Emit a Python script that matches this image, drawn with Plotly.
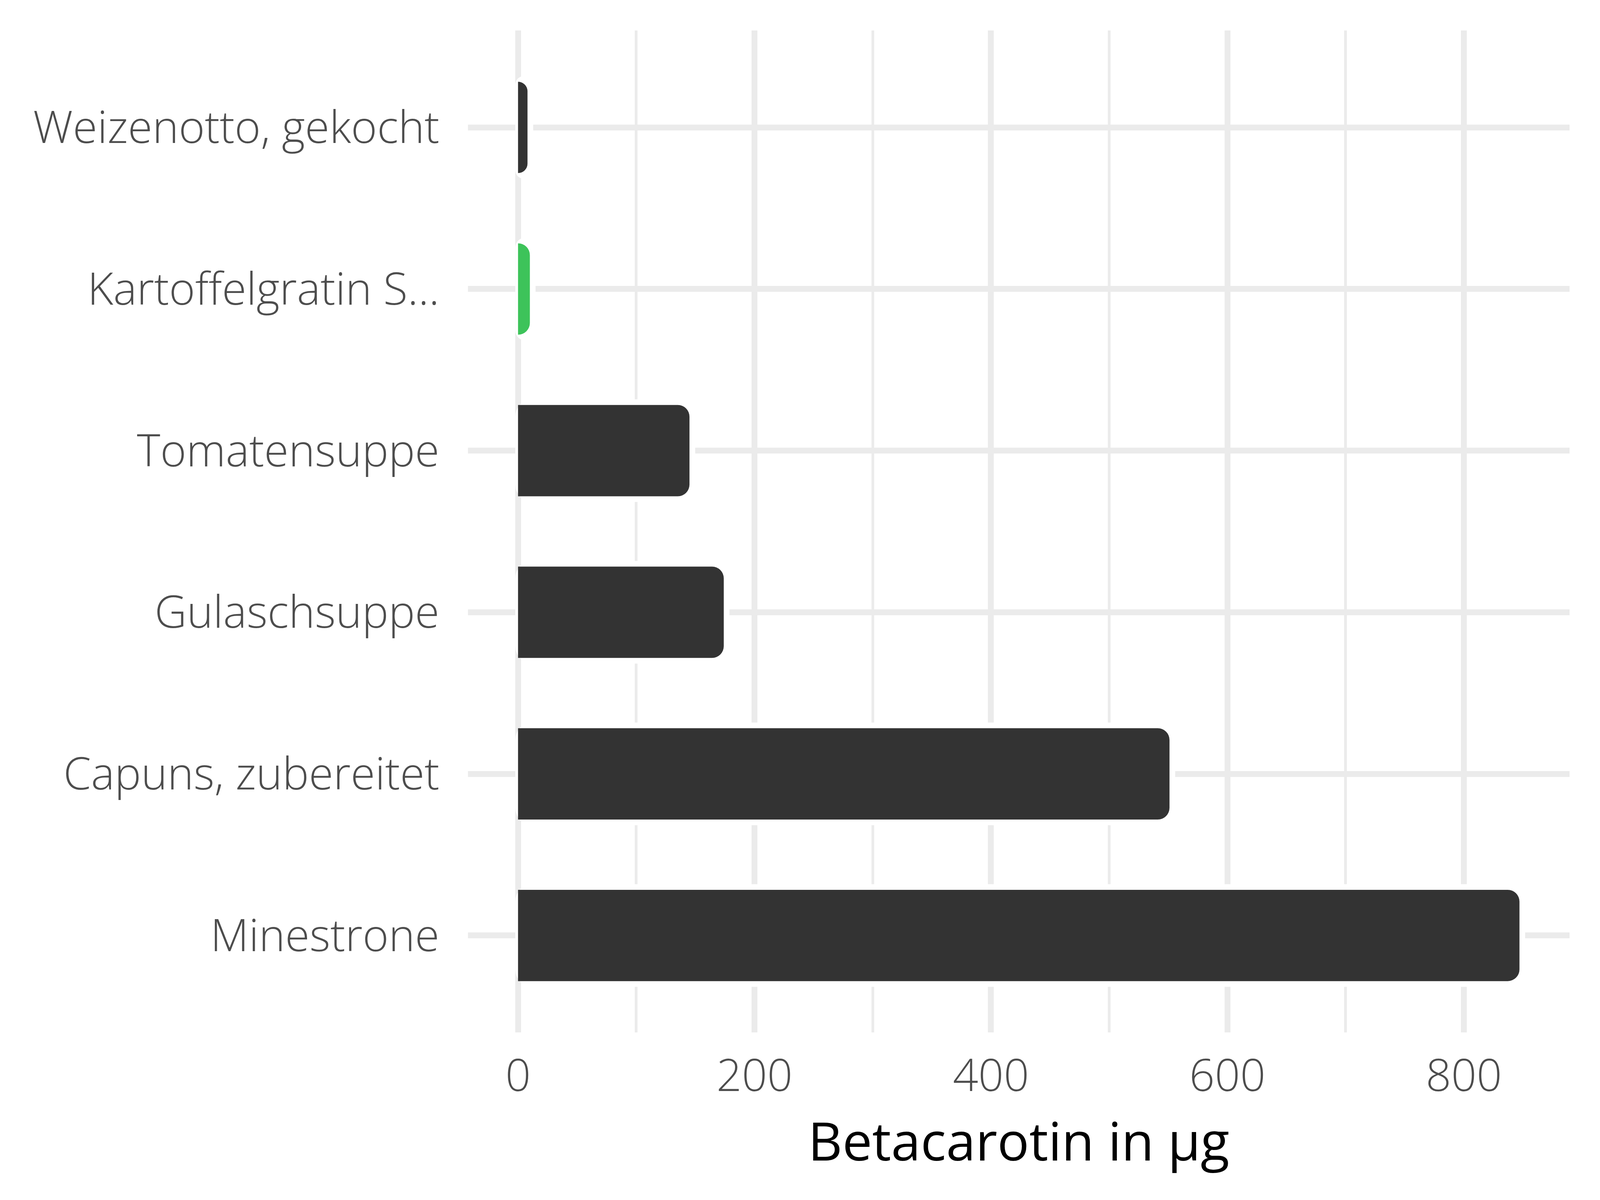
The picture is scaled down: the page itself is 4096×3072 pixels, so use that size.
import plotly.graph_objects as go

# Data (bottom to top)
categories = ["Minestrone", "Capuns, zubereitet", "Gulaschsuppe",
              "Tomatensuppe", "Kartoffelgratin S...", "Weizenotto, gekocht"]
values = [847, 551, 174, 145, 10, 8]
colors = ["#333333", "#333333", "#333333", "#333333", "#3DC35A", "#333333"]

x_ticks = [0, 200, 400, 600, 800]
x_title = "Betacarotin in µg"

FONT = "Open Sans"
GRID = "#EBEBEB"
X_RANGE = [-42.35, 889.35]
Y_RANGE = [-0.6, 5.6]

# halo padding in data units (white gap between bars and grid)
pad_right = 4.8
pad_left = 2.3

fig = go.Figure()

# white halo under bars (covers gridlines around each bar) - main axes
fig.add_trace(go.Bar(
    y=categories,
    x=[v + pad_right + pad_left for v in values],
    base=-pad_left,
    orientation="h",
    width=0.635,
    marker=dict(color="white", cornerradius=44, line=dict(width=0)),
    hoverinfo="skip",
    showlegend=False,
    xaxis="x", yaxis="y",
))

# actual bars on overlaying axes (drawn above)
fig.add_trace(go.Bar(
    y=categories,
    x=values,
    orientation="h",
    width=0.565,
    marker=dict(color=colors, cornerradius=30, line=dict(width=0)),
    showlegend=False,
    xaxis="x2", yaxis="y2",
))

fig.update_layout(
    width=4096, height=3072, autosize=False,
    paper_bgcolor="white", plot_bgcolor="white",
    barmode="overlay",
    margin=dict(l=1190, r=86, t=70, b=437, pad=0),
    font=dict(family=FONT, size=114, color="#4D4D4D"),
    xaxis=dict(
        range=X_RANGE,
        tickmode="array", tickvals=x_ticks, ticktext=[str(t) for t in x_ticks],
        showgrid=True, gridcolor=GRID, gridwidth=14.5,
        minor=dict(dtick=100, tick0=0, showgrid=True, gridcolor=GRID, gridwidth=7),
        zeroline=False, showline=False, ticks="",
        tickfont=dict(family=FONT, size=114, color="#4D4D4D", weight=300),
        ticklabelstandoff=35,
        automargin=False,
        title=dict(text=x_title, font=dict(family=FONT, size=136, color="black"), standoff=10),
    ),
    yaxis=dict(
        type="category", categoryorder="array", categoryarray=categories,
        range=Y_RANGE,
        showgrid=True, gridcolor=GRID, gridwidth=14.5,
        zeroline=False, showline=False, ticks="",
        tickfont=dict(family=FONT, size=114, color="#4D4D4D", weight=300),
        ticklabelstandoff=72,
        automargin=False,
    ),
    xaxis2=dict(
        overlaying="x", range=X_RANGE, visible=False,
        showgrid=False, zeroline=False, automargin=False,
    ),
    yaxis2=dict(
        overlaying="y", type="category", categoryorder="array", categoryarray=categories,
        range=Y_RANGE, visible=False, showgrid=False, zeroline=False, automargin=False,
    ),
)

fig.write_html("out.html")
